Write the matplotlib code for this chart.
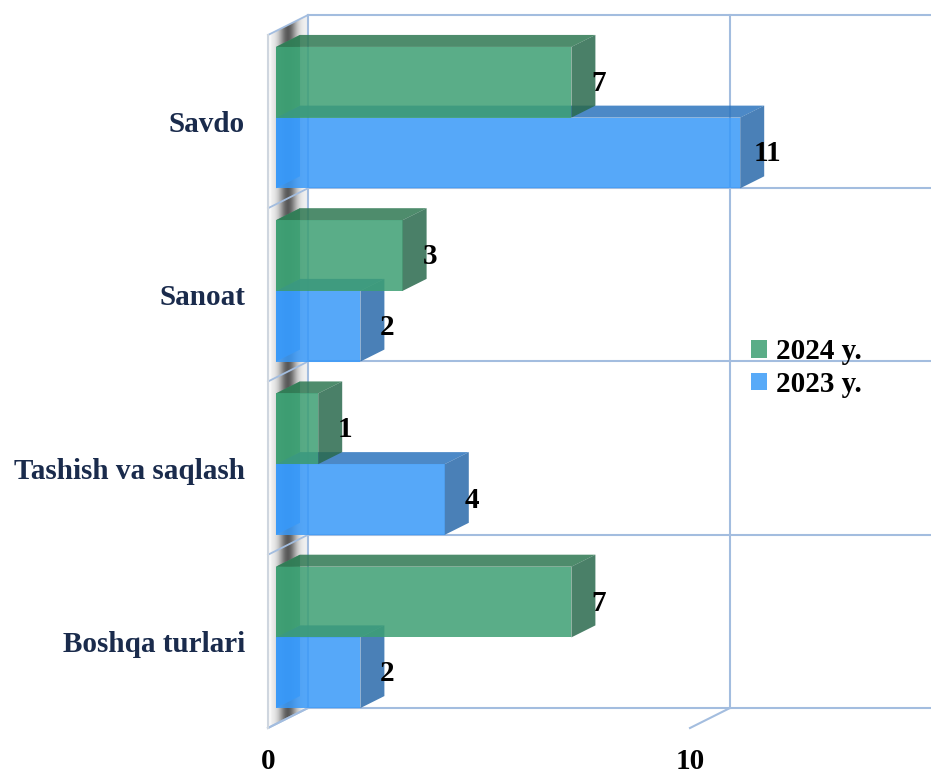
import matplotlib
matplotlib.use("Agg")
import matplotlib.pyplot as plt
import numpy as np
from matplotlib.patches import Polygon, Patch

# ---- data ----
categories = ["Savdo", "Sanoat", "Tashish va saqlash", "Boshqa turlari"]
values_2024 = [7, 3, 1, 7]
values_2023 = [11, 2, 4, 2]
series_labels = ["2024 y.", "2023 y."]
x_ticks = [0, 10]

# ---- geometry (pixel scale of the 3D projection) ----
W, H = 931, 774
PX = 42.2          # pixels per value unit
PY = 173.25        # pixels per category
X0, Y0 = 268, 35   # front-plane origin in pixels
DX = 40 / PX       # full depth offset (value units)
DY = -20 / PY      # full depth offset (category units)
D_FRONT, D_BACK = 0.2, 0.8
GAP = 0.092

fig = plt.figure(figsize=(W / 100, H / 100), dpi=100)
ax = fig.add_axes([0, 0, 1, 1])
ax.set_xlim(-X0 / PX, (W - X0) / PX)
ax.set_ylim((H - Y0) / PY, -Y0 / PY)
ax.axis("off")


def P(v, k, d):
    return (v + d * DX, k + d * DY)


ncat = len(categories)
grid_c = "#a3bddf"
XMAX = 30

# left wall with cylinder-like gradient
wall = Polygon([P(0, 0, 0), P(0, 0, 1), P(0, ncat, 1), P(0, ncat, 0)],
               closed=True, facecolor="none", edgecolor="none")
ax.add_patch(wall)
g = np.linspace(0, 1, 60)
shade = 0.95 - 0.6 * np.exp(-((g - 0.5) / 0.22) ** 2)
shade[:5] = 0.97
img = np.tile(shade, (10, 1))
x_a, _ = P(0, 0, 0)
x_b, _ = P(0, 0, 1)
im = ax.imshow(img, cmap="gray", vmin=0, vmax=1, aspect="auto",
               extent=(x_a, x_b, ncat, 0 + DY), interpolation="bilinear", zorder=1)
im.set_clip_path(wall)

# back wall grid
for k in range(ncat + 1):
    xa, ya = P(0, k, 1)
    ax.plot([xa, XMAX], [ya, ya], color=grid_c, lw=1.5, zorder=2)
    xs, ys = zip(P(0, k, 0), P(0, k, 1))
    ax.plot(xs, ys, color=grid_c, lw=1.3, zorder=2)
for t in x_ticks:
    xs, ys = zip(P(t, 0, 1), P(t, ncat, 1))
    ax.plot(xs, ys, color=grid_c, lw=1.5, zorder=2)
    xs, ys = zip(P(t, ncat, 0), P(t, ncat, 1))
    ax.plot(xs, ys, color=grid_c, lw=1.5, zorder=2)
xs, ys = zip(P(0, 0, 0), P(0, ncat, 0))
ax.plot(xs, ys, color="#cfd6df", lw=1.5, zorder=2)

# ---- bars ----
ALPHA = 0.85
styles = {
    "2024": dict(front="#3d9f73", top="#2f7852", side="#2a6a4d"),
    "2023": dict(front="#3899f9", top="#2c75be", side="#2a6aab"),
}


def bar3d(v, y1, y2, st, z):
    faces = [
        ([P(0, y1, D_FRONT), P(0, y1, D_BACK), P(0, y2, D_BACK), P(0, y2, D_FRONT)], st["front"]),
        ([P(0, y1, D_FRONT), P(v, y1, D_FRONT), P(v, y1, D_BACK), P(0, y1, D_BACK)], st["top"]),
        ([P(0, y1, D_FRONT), P(v, y1, D_FRONT), P(v, y2, D_FRONT), P(0, y2, D_FRONT)], st["front"]),
        ([P(v, y1, D_FRONT), P(v, y1, D_BACK), P(v, y2, D_BACK), P(v, y2, D_FRONT)], st["side"]),
    ]
    for pts, c in faces:
        ax.add_patch(Polygon(pts, closed=True, facecolor=c, edgecolor="none",
                             alpha=ALPHA, zorder=z))


font = ["Liberation Serif", "DejaVu Serif"]
for k, (cat, v24, v23) in enumerate(zip(categories, values_2024, values_2023)):
    mid = k + 0.5
    # 2023 (lower) first, then 2024 on top
    bar3d(v23, mid, k + 1 - GAP, styles["2023"], 3 + k * 2)
    bar3d(v24, k + GAP, mid, styles["2024"], 4 + k * 2)
    for v, y1, y2 in [(v24, k + GAP, mid), (v23, mid, k + 1 - GAP)]:
        lx, ly = P(v, (y1 + y2) / 2, D_FRONT)
        ax.text(lx + 27 / PX, ly + 1 / PY, str(v), ha="center", va="center",
                fontsize=21, fontweight="bold", family=font, color="black", zorder=20)
    ax.text(-23 / PX, mid + 3 / PY, cat, ha="right", va="center", fontsize=21,
            fontweight="bold", family=font, color="#1a2b4c", zorder=20)

for t in x_ticks:
    tx, ty = P(t, ncat, 0)
    ax.text(tx, ty + 34 / PY, str(t), ha="center", va="center", fontsize=21,
            fontweight="bold", family=font, color="black")

handles = [Patch(facecolor="#5aad87", edgecolor="none"),
           Patch(facecolor="#58aaf8", edgecolor="none")]
fig.legend(handles, series_labels, loc="center left",
           bbox_to_anchor=(751 / W, 1 - 368 / H), frameon=False,
           prop=dict(family=font, weight="bold", size=21),
           handlelength=0.55, handleheight=0.55, handletextpad=0.3,
           labelspacing=0.2, borderaxespad=0, borderpad=0)

fig.savefig("out.png", dpi=100)
